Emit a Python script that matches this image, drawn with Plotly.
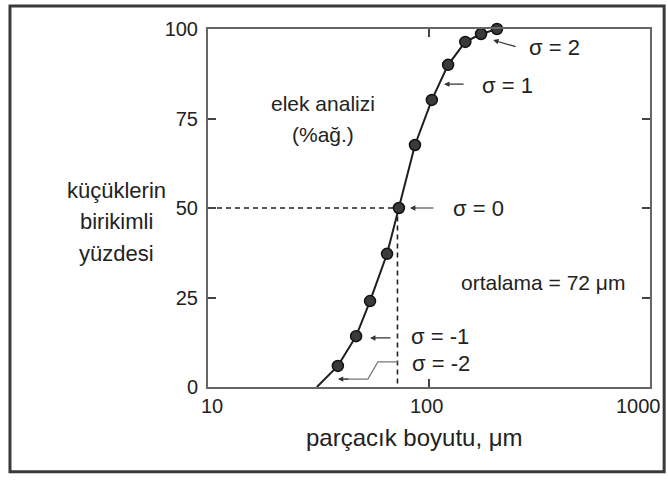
import math
import plotly.graph_objects as go

# ---- data ----
size_um = [38.7, 46.8, 54.1, 64.6, 73.1, 86.4, 103, 122, 146, 172, 203]
cum_pct = [5.9, 14.2, 24.0, 37.2, 50.0, 67.6, 80.2, 90.0, 96.4, 98.6, 100.0]
line_start_um = 31.1
line_start_pct = 0
mean_um = 72
x_ticks = [10, 100, 1000]
x_tick_text = ["10", "100", "1000"]
y_ticks = [0, 25, 50, 75, 100]
sigma_labels = ["σ = 2", "σ = 1", "σ = 0", "σ = -1", "σ = -2"]

FONT = "Liberation Sans, Arial, Helvetica, sans-serif"
TXT = "#222222"
L = math.log10

fig = go.Figure()

# dashed guide lines at the mean (50 %)
fig.add_trace(go.Scatter(x=[10, mean_um, mean_um], y=[50, 50, 0], mode="lines",
                         line=dict(color="#222", width=1.6, dash="5px,4px"),
                         hoverinfo="skip", showlegend=False))

# curve
fig.add_trace(go.Scatter(x=[line_start_um] + size_um, y=[line_start_pct] + cum_pct,
                         mode="lines", line=dict(color="#1e1e1e", width=2),
                         showlegend=False, cliponaxis=False))
fig.add_trace(go.Scatter(x=size_um, y=cum_pct, mode="markers",
                         marker=dict(size=11, color="#3a3a3a",
                                     line=dict(color="#111", width=1.5)),
                         showlegend=False, cliponaxis=False))

# elbow leader for sigma = -2
fig.add_trace(go.Scatter(x=[72.3, 58.7, 52.9, 41.5], y=[7.0, 7.0, 2.2, 2.2], mode="lines",
                         line=dict(color="#777", width=1.2),
                         hoverinfo="skip", showlegend=False))

ann = []
def text(x, y, s, size=21, xref="x", yref="y", **kw):
    d = dict(x=x, y=y, xref=xref, yref=yref, text=s, showarrow=False,
             xanchor="center", yanchor="middle",
             font=dict(family=FONT, size=size, color=TXT))
    d.update(kw)
    ann.append(d)

def arrow(x, y, ax, ay):
    ann.append(dict(x=L(x), y=y, xref="x", yref="y", text="", showarrow=True,
                    ax=ax, ay=ay, axref="pixel", ayref="pixel",
                    arrowhead=2, arrowsize=0.9, arrowwidth=1.2, arrowcolor="#333"))

# sigma labels and arrows
arrow(195, 96.9, 24, 7)
text(2.570, 94.7, sigma_labels[0], size=22)
arrow(117, 84.6, 21, 0)
text(2.353, 84.1, sigma_labels[1], size=22)
arrow(82, 50, 25, 0)
text(2.222, 50, sigma_labels[2], size=22)
arrow(54.1, 13.7, 22, 0)
text(2.050, 14.2, sigma_labels[3], size=22)
arrow(38.7, 2.2, 12, 0)
text(2.054, 6.7, sigma_labels[4], size=22)

# other labels
text(1.520, 79.3, "elek analizi")
text(1.520, 70.4, "(%ağ.)")
text(2.516, 29.3, "ortalama = 72 μm")

# y-axis title (three lines)
text(-0.208, 0.550, "küçüklerin", size=22, xref="paper", yref="paper")
text(-0.208, 0.461, "birikimli", size=22, xref="paper", yref="paper")
text(-0.208, 0.374, "yüzdesi", size=22, xref="paper", yref="paper")
# x-axis title
text(0.468, -0.142, "parçacık boyutu, μm", size=24, xref="paper", yref="paper")

# x tick labels (nudged inward like the original)
for v, t, sh in zip(x_ticks, x_tick_text, [4, -3, -12]):
    text(L(v), 0, t, size=20, yref="paper", yanchor="top", yshift=-6, xshift=sh)

fig.update_layout(
    width=668, height=481,
    margin=dict(l=208, r=18, t=29, b=94),
    paper_bgcolor="white", plot_bgcolor="white",
    annotations=ann,
    shapes=[dict(type="rect", xref="paper", yref="paper",
                 x0=-0.448, x1=1.032, y0=-0.237, y1=1.064,
                 line=dict(color="#3a3a3a", width=3))],
    xaxis=dict(type="log", range=[1, 3], tickvals=x_ticks, showticklabels=False,
               ticks="inside", ticklen=8, tickwidth=1.5, tickcolor="#444",
               showline=True, linecolor="#666", linewidth=2, mirror="ticks",
               showgrid=False, zeroline=False),
    yaxis=dict(range=[0, 100], tickvals=y_ticks,
               ticks="inside", ticklen=8, tickwidth=1.5, tickcolor="#444",
               showline=True, linecolor="#666", linewidth=2, mirror="ticks",
               showgrid=False, zeroline=False, ticklabelstandoff=4,
               tickfont=dict(family=FONT, size=20, color=TXT)),
)

fig.write_html("out.html", config={"displayModeBar": False},
               post_script="document.body.style.margin='0px';")
